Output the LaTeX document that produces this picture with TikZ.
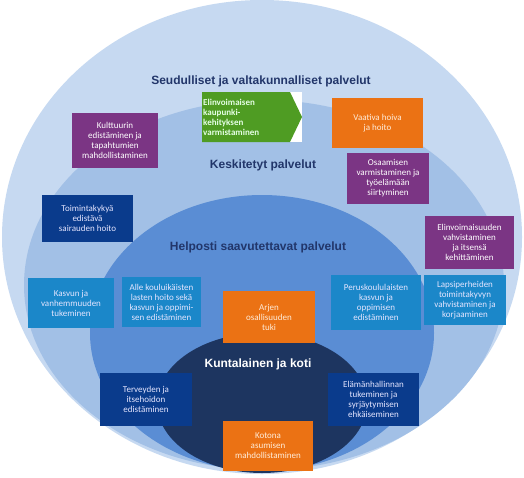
\documentclass[tikz,border=0pt]{standalone}
\usepackage{fontspec}
\setmainfont{Carlito}
\newfontfamily\otsfont{Liberation Sans}

\definecolor{vaalea}{HTML}{C6D9F1}
\definecolor{keski}{HTML}{A2C0E6}
\definecolor{helppo}{HTML}{5A8DD4}
\definecolor{koti}{HTML}{1D3560}
\definecolor{otsikkovari}{HTML}{22366A}
\definecolor{violetti}{HTML}{7B3584}
\definecolor{oranssi}{HTML}{EB7214}
\definecolor{tummasin}{HTML}{0A3B8C}
\definecolor{turkoosi}{HTML}{1B87C9}
\definecolor{vihrea}{HTML}{4F9C23}

\tikzset{
  otsikko/.style={font=\otsfont\bfseries\fontsize{12}{14}\selectfont, text=otsikkovari, inner sep=0pt},
  laatikko/.style={rectangle, inner sep=1pt, align=center,
    font=\fontsize{9}{10}\selectfont},
  violettibox/.style={laatikko, fill=violetti, text=white},
  oranssibox/.style={laatikko, fill=oranssi, text=orange!15},
  tummabox/.style={laatikko, fill=tummasin, text=blue!10},
  turkoosibox/.style={laatikko, fill=turkoosi, text=blue!10},
}

\begin{document}
\begin{tikzpicture}[x=1pt,y=-1pt]
\useasboundingbox (0,0) rectangle (524,477);
\fill[white] (0,0) rectangle (524,477);

% palvelutasot
\fill[vaalea] (262,237) ellipse [x radius=260pt, y radius=237pt];
\fill[keski] (264,285) ellipse [x radius=240pt, y radius=185pt];
\fill[helppo] (262,333) ellipse [x radius=172pt, y radius=138pt];
\fill[koti] (262,403) ellipse [x radius=105pt, y radius=70pt];

\node (seud) [otsikko] at (261,81) {Seudulliset ja valtakunnalliset palvelut};
\node (keskit) [otsikko] at (263,165) {Keskitetyt palvelut};
\node (helposti) [otsikko] at (258,247) {Helposti saavutettavat palvelut};
\node (kuntalainen) [otsikko, text=white] at (258,364) {Kuntalainen ja koti};

% nuoli
\fill[white] (202,92) rectangle (302,142);
\fill[vihrea] (202,92) -- (290,92) -- (302,117) -- (290,142) -- (202,142) -- cycle;
\node (kaupunki) [anchor=west, align=left, inner sep=0pt, text=green!10,
  font=\bfseries\fontsize{9}{10}\selectfont] at (203,117)
  {Elinvoimaisen\\kaupunki-\\kehityksen\\varmistaminen};

\node (kulttuuri) [violettibox, minimum width=86pt, minimum height=55pt] at (115,140.5)
  {Kulttuurin\\edistäminen ja\\tapahtumien\\mahdollistaminen};
\node (vaativa) [oranssibox, minimum width=91pt, minimum height=50pt] at (377.5,123)
  {Vaativa hoiva\\ja hoito};
\node (osaaminen) [violettibox, minimum width=82pt, minimum height=51pt] at (388,178.5)
  {Osaamisen\\varmistaminen ja\\työelämään\\siirtyminen};
\node (toimintakyky) [tummabox, minimum width=91pt, minimum height=47pt] at (87.5,218.5)
  {Toimintakykyä\\edistävä\\sairauden hoito};
\node (elinvoima) [violettibox, minimum width=89pt, minimum height=53pt] at (469.5,242.5)
  {Elinvoimaisuuden\\vahvistaminen\\ja itsensä\\kehittäminen};

\node (kasvu) [turkoosibox, minimum width=86pt, minimum height=50pt] at (71,303)
  {Kasvun ja\\vanhemmuuden\\tukeminen};
\node (alle) [turkoosibox, minimum width=79pt, minimum height=50pt] at (161.5,302)
  {Alle kouluikäisten\\lasten hoito sekä\\kasvun ja oppimi-\\sen edistäminen};
\node (perus) [turkoosibox, minimum width=90pt, minimum height=55pt] at (376,302.5)
  {Peruskoululaisten\\kasvun ja\\oppimisen\\edistäminen};
\node (lapsi) [turkoosibox, minimum width=82pt, minimum height=50pt] at (465,300)
  {Lapsiperheiden\\toimintakyvyn\\vahvistaminen ja\\korjaaminen};
\node (arki) [oranssibox, minimum width=92pt, minimum height=52pt] at (269,317)
  {Arjen\\osallisuuden\\tuki};

\node (terveys) [tummabox, minimum width=92pt, minimum height=53pt] at (146,399.5)
  {Terveyden ja\\itsehoidon\\edistäminen};
\node (elama) [tummabox, minimum width=91pt, minimum height=53pt] at (373.5,399.5)
  {Elämänhallinnan\\tukeminen ja\\syrjäytymisen\\ehkäiseminen};
\node (kotona) [oranssibox, minimum width=90pt, minimum height=50pt] at (268,446)
  {Kotona\\asumisen\\mahdollistaminen};
\end{tikzpicture}
\end{document}
